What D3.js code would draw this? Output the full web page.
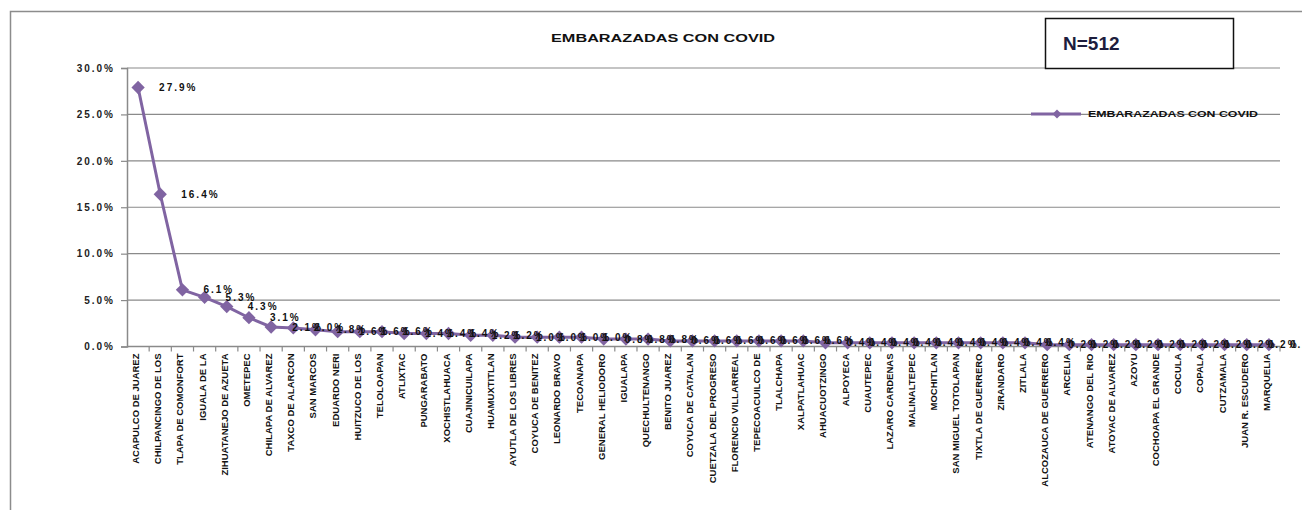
<!DOCTYPE html>
<html>
<head>
<meta charset="utf-8">
<script src="https://cdn.jsdelivr.net/npm/d3@7"></script>
<style>
  body { margin: 0; background: #fff; }
  svg text { font-family: Arial, "Liberation Sans", sans-serif; }
</style>
</head>
<body>
<script>
// data
var municipios = ["ACAPULCO DE JUAREZ", "CHILPANCINGO DE LOS", "TLAPA DE COMONFORT", "IGUALA DE LA", "ZIHUATANEJO DE AZUETA",
  "OMETEPEC", "CHILAPA DE ALVAREZ", "TAXCO DE ALARCON", "SAN MARCOS", "EDUARDO NERI",
  "HUITZUCO DE LOS", "TELOLOAPAN", "ATLIXTAC", "PUNGARABATO", "XOCHISTLAHUACA",
  "CUAJINICUILAPA", "HUAMUXTITLAN", "AYUTLA DE LOS LIBRES", "COYUCA DE BENITEZ", "LEONARDO BRAVO",
  "TECOANAPA", "GENERAL HELIODORO", "IGUALAPA", "QUECHULTENANGO", "BENITO JUAREZ",
  "COYUCA DE CATALAN", "CUETZALA DEL PROGRESO", "FLORENCIO VILLARREAL", "TEPECOACUILCO DE", "TLALCHAPA",
  "XALPATLAHUAC", "AHUACUOTZINGO", "ALPOYECA", "CUAUTEPEC", "LAZARO CARDENAS",
  "MALINALTEPEC", "MOCHITLAN", "SAN MIGUEL TOTOLAPAN", "TIXTLA DE GUERRERO", "ZIRANDARO",
  "ZITLALA", "ALCOZAUCA DE GUERRERO", "ARCELIA", "ATENANGO DEL RIO", "ATOYAC DE ALVAREZ",
  "AZOYU", "COCHOAPA EL GRANDE", "COCULA", "COPALA", "CUTZAMALA",
  "JUAN R. ESCUDERO", "MARQUELIA"];

var porcentajes = [27.9, 16.4, 6.1, 5.3, 4.3,
  3.1, 2.1, 2.0, 1.8, 1.6,
  1.6, 1.6, 1.4, 1.4, 1.4,
  1.2, 1.2, 1.0, 1.0, 1.0,
  1.0, 0.8, 0.8, 0.8, 0.6,
  0.6, 0.6, 0.6, 0.6, 0.6,
  0.6, 0.4, 0.4, 0.4, 0.4,
  0.4, 0.4, 0.4, 0.4, 0.4,
  0.4, 0.2, 0.2, 0.2, 0.2,
  0.2, 0.2, 0.2, 0.2, 0.2,
  0.2, 0.2];

var yTicks = [0, 5, 10, 15, 20, 25, 30];
var titulo = "EMBARAZADAS CON COVID";
var serie = "EMBARAZADAS CON COVID";
var nTotal = "N=512";

var W = 1302, H = 510;
var svg = d3.select("body").append("svg")
    .attr("width", W)
    .attr("height", H);

// outer chart frame
svg.append("rect")
    .attr("x", 10.5).attr("y", 11.5)
    .attr("width", W).attr("height", H)
    .style("fill", "none")
    .style("stroke", "#8c8c8c")
    .style("stroke-width", "1.5px");

var pLeft = 127, pRight = 1280, pTop = 68, pBottom = 346.5;

var x = d3.scaleBand()
    .domain(municipios)
    .range([pLeft, pRight]);

var y = d3.scaleLinear()
    .domain([0, 30])
    .range([pBottom, pTop]);

// gridlines
svg.append("g")
    .selectAll("line")
    .data(yTicks.filter(function(d) { return d > 0; }))
    .enter()
    .append("line")
    .attr("x1", pLeft).attr("x2", pRight)
    .attr("y1", function(d) { return y(d); })
    .attr("y2", function(d) { return y(d); })
    .style("stroke", "#8a8a8a")
    .style("stroke-width", "1.2px");

// y axis
var yAxis = d3.axisLeft(y)
    .tickValues(yTicks)
    .tickSize(6)
    .tickFormat(function(d) { return d.toFixed(1) + "%"; });

var gy = svg.append("g")
    .attr("transform", "translate(" + pLeft + ",0)")
    .call(yAxis);
gy.select(".domain").style("stroke", "#8a8a8a").style("stroke-width", "1.5px");
gy.selectAll(".tick line").style("stroke", "#8a8a8a").style("stroke-width", "1.2px");
gy.selectAll(".tick text")
    .attr("x", -12)
    .style("font-size", "10px")
    .style("font-weight", "bold")
    .style("letter-spacing", "2px")
    .style("fill", "#222");

// x axis: line, ticks between categories
var gx = svg.append("g");
gx.append("line")
    .attr("x1", pLeft).attr("x2", pRight)
    .attr("y1", pBottom).attr("y2", pBottom)
    .style("stroke", "#8a8a8a")
    .style("stroke-width", "1.5px");
gx.selectAll("line.tk")
    .data(municipios)
    .enter()
    .append("line")
    .attr("class", "tk")
    .attr("x1", function(d) { return x(d) + x.bandwidth(); })
    .attr("x2", function(d) { return x(d) + x.bandwidth(); })
    .attr("y1", pBottom).attr("y2", pBottom + 5)
    .style("stroke", "#8a8a8a")
    .style("stroke-width", "1.2px");
gx.selectAll("text")
    .data(municipios)
    .enter()
    .append("text")
    .attr("transform", function(d) {
        return "translate(" + (x(d) + x.bandwidth() / 2 + 1) + "," + (pBottom + 7) + ") rotate(-90)";
    })
    .attr("text-anchor", "end")
    .style("font-size", "9.5px")
    .style("font-weight", "bold")
    .style("fill", "#111")
    .text(function(d) { return d; });

// line
var puntos = municipios.map(function(m, i) { return [m, porcentajes[i]]; });
var cx = function(d) { return x(d[0]) + x.bandwidth() / 2; };

var lineGenerator = d3.line()
    .x(cx)
    .y(function(d) { return y(d[1]); });

svg.append("path")
    .attr("d", lineGenerator(puntos))
    .style("fill", "none")
    .style("stroke", "#8064a2")
    .style("stroke-width", "3px");

// diamonds: squares turned 45 degrees
var diamond = d3.symbol().type(d3.symbolSquare).size(88);
svg.selectAll("path.mk")
    .data(puntos)
    .enter()
    .append("path")
    .attr("class", "mk")
    .attr("d", diamond)
    .attr("transform", function(d) { return "translate(" + cx(d) + "," + y(d[1]) + ") rotate(45)"; })
    .style("fill", "#8064a2");

// data labels
svg.selectAll("text.lbl")
    .data(puntos)
    .enter()
    .append("text")
    .attr("class", "lbl")
    .attr("x", function(d) { return cx(d) + 21; })
    .attr("y", function(d) { return y(d[1]) + 3.5; })
    .style("font-size", "10px")
    .style("font-weight", "bold")
    .style("letter-spacing", "2px")
    .style("fill", "#111")
    .text(function(d) { return d[1].toFixed(1) + "%"; });

// title
svg.append("text")
    .attr("x", 551).attr("y", 42)
    .attr("textLength", 224)
    .attr("lengthAdjust", "spacingAndGlyphs")
    .style("font-size", "10px")
    .style("font-weight", "bold")
    .style("fill", "#111")
    .text(titulo);

// N box
svg.append("rect")
    .attr("x", 1045.5).attr("y", 18.5)
    .attr("width", 188).attr("height", 50)
    .style("fill", "#fff")
    .style("stroke", "#111")
    .style("stroke-width", "1.5px");
svg.append("text")
    .attr("x", 1063).attr("y", 50)
    .style("font-size", "19px")
    .style("font-weight", "bold")
    .style("fill", "#1d1d3d")
    .text(nTotal);

// legend
var lg = svg.append("g").attr("transform", "translate(1031,114)");
lg.append("line")
    .attr("x1", 0).attr("x2", 50)
    .style("stroke", "#8064a2")
    .style("stroke-width", "3px");
lg.append("path")
    .attr("d", d3.symbol().type(d3.symbolSquare).size(40))
    .attr("transform", "translate(26,0) rotate(45)")
    .style("fill", "#8064a2");
lg.append("text")
    .attr("x", 57).attr("y", 3)
    .attr("textLength", 170)
    .attr("lengthAdjust", "spacingAndGlyphs")
    .style("font-size", "9px")
    .style("font-weight", "bold")
    .style("fill", "#111")
    .text(serie);
</script>
</body>
</html>
